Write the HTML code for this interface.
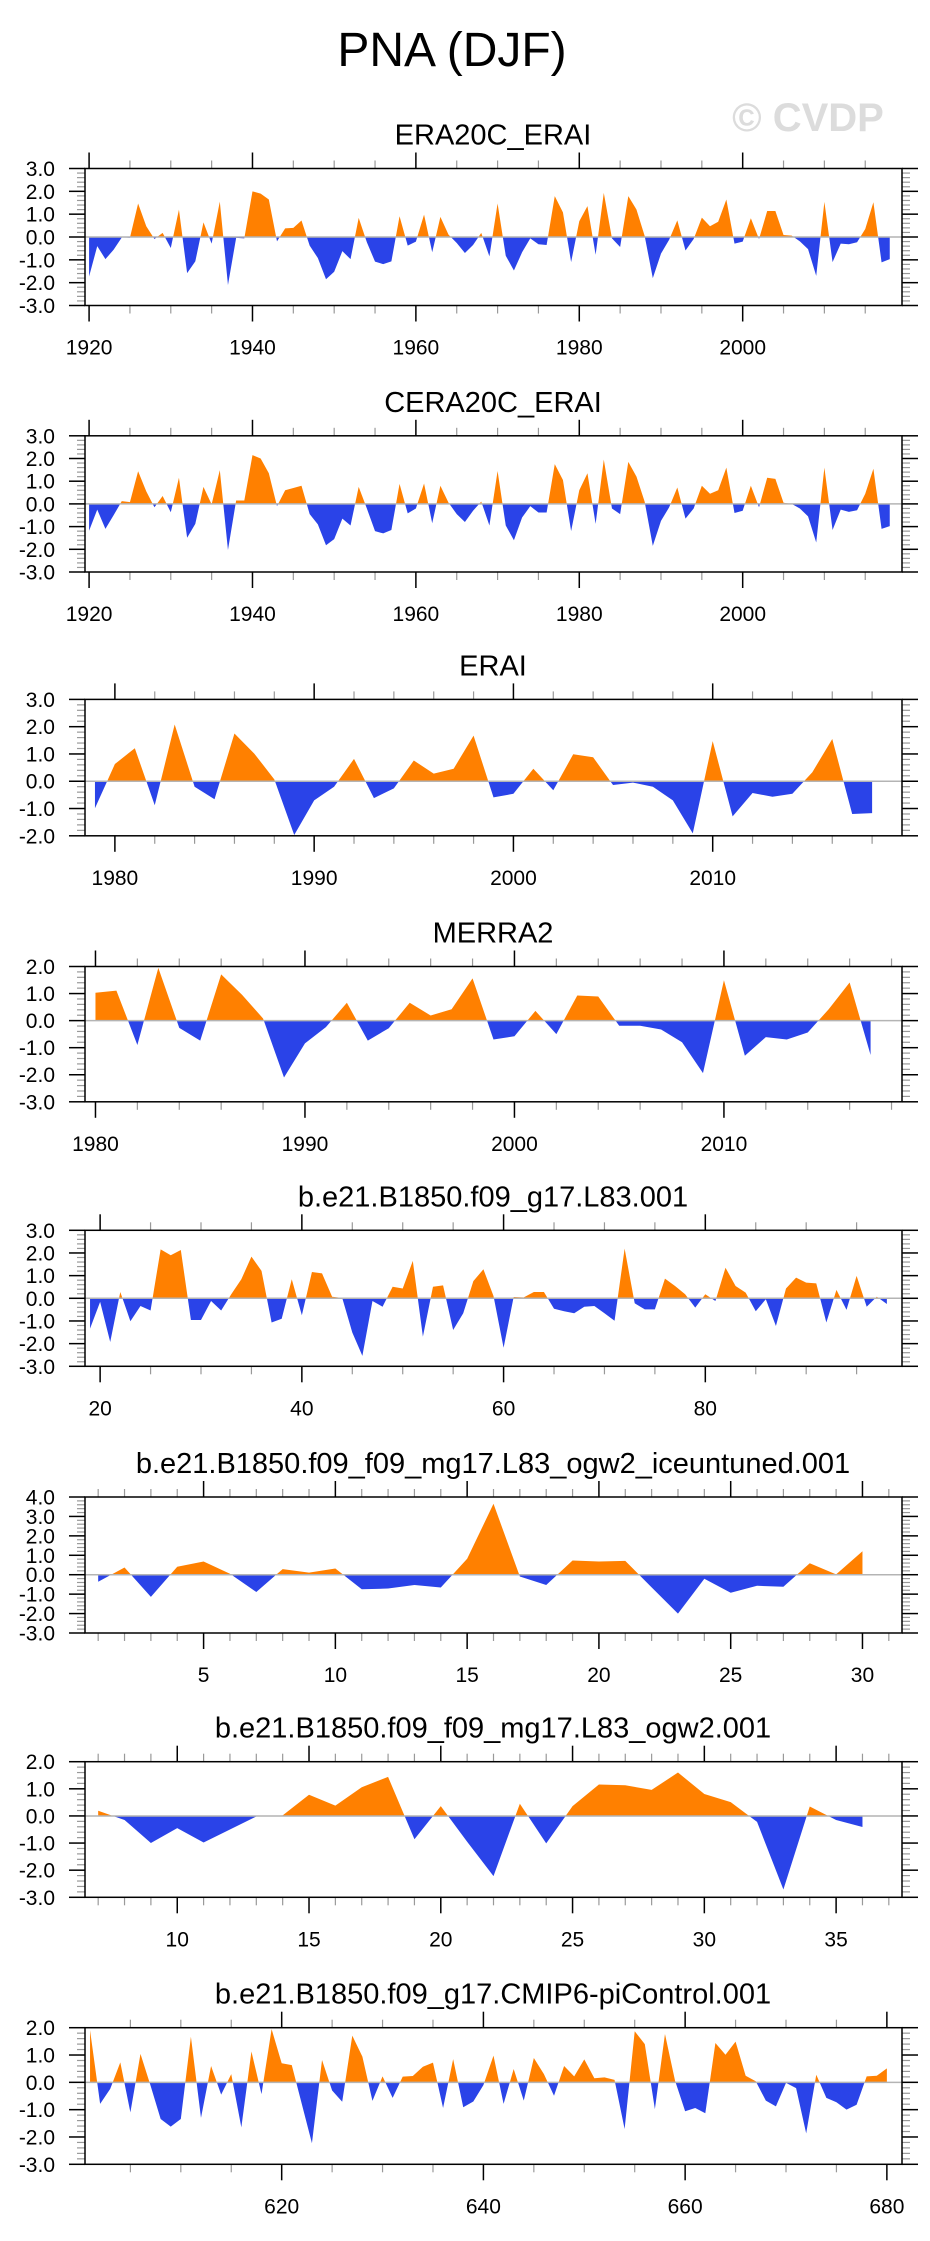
<!DOCTYPE html>
<html><head><meta charset="utf-8">
<style>
html,body{margin:0;padding:0;background:#fff;}
svg{display:block;font-family:"Liberation Sans",Arial,sans-serif;}
</style></head>
<body>
<svg id="chart" width="930" height="2241" viewBox="0 0 930 2241" xmlns="http://www.w3.org/2000/svg">
<text x="452" y="66" font-size="48" text-anchor="middle" fill="#000">PNA (DJF)</text>
<text x="808" y="131" font-size="40" font-weight="bold" text-anchor="middle" fill="#dcdcdc">© CVDP</text>
</svg>
<script>
// ---- data ----
const era20cStart = 1920;
const era20cValues = [-1.73,-0.4,-0.97,-0.56,-0.02,-0.03,1.47,0.47,-0.09,0.18,-0.48,1.2,-1.58,-1.07,0.64,-0.29,1.55,-2.1,-0.04,-0.06,
2.0,1.9,1.64,-0.19,0.38,0.4,0.72,-0.38,-0.92,-1.85,-1.52,-0.62,-0.97,0.84,-0.23,-1.08,-1.19,-1.07,0.91,-0.38,
-0.2,0.98,-0.67,0.88,0.1,-0.26,-0.7,-0.35,0.18,-0.85,1.47,-0.82,-1.47,-0.67,-0.06,-0.32,-0.35,1.79,1.08,-1.1,
0.69,1.35,-0.78,1.93,-0.06,-0.44,1.79,1.2,0.05,-1.8,-0.73,-0.12,0.73,-0.59,-0.09,0.85,0.47,0.67,1.64,-0.29,
-0.2,0.82,-0.09,1.14,1.14,0.09,0.06,-0.19,-0.53,-1.7,1.54,-1.1,-0.29,-0.32,-0.23,0.35,1.52,-1.11,-0.97];
const cera20cStart = 1920;
const cera20cValues = [-1.18,-0.25,-1.1,-0.5,0.12,0.08,1.44,0.55,-0.15,0.35,-0.37,1.15,-1.49,-0.88,0.75,-0.02,1.49,-2.03,0.15,0.15,
2.15,2.0,1.35,-0.1,0.6,0.7,0.8,-0.45,-0.9,-1.82,-1.55,-0.65,-0.95,0.75,-0.2,-1.2,-1.3,-1.15,0.88,-0.42,
-0.2,0.9,-0.85,0.8,0.05,-0.45,-0.8,-0.3,0.1,-0.95,1.45,-0.95,-1.6,-0.6,-0.1,-0.38,-0.38,1.75,1.05,-1.2,
0.6,1.35,-0.88,1.95,-0.2,-0.45,1.85,1.2,0.1,-1.85,-0.75,-0.15,0.72,-0.65,-0.2,0.8,0.45,0.6,1.6,-0.4,
-0.3,0.8,-0.15,1.15,1.1,0.05,0.0,-0.2,-0.55,-1.7,1.6,-1.15,-0.25,-0.35,-0.28,0.45,1.55,-1.1,-0.98];
const eraiStart = 1979;
const eraiValues = [-0.99,0.63,1.21,-0.88,2.08,-0.2,-0.66,1.75,1.01,0.07,-1.97,-0.7,-0.2,0.82,-0.62,-0.26,0.76,0.28,0.46,1.67,
-0.59,-0.46,0.46,-0.33,0.99,0.88,-0.14,-0.05,-0.2,-0.7,-1.91,1.47,-1.29,-0.43,-0.57,-0.46,0.33,1.55,-1.2,-1.17];
const merra2Start = 1980;
const merra2Values = [1.03,1.11,-0.9,1.95,-0.27,-0.74,1.71,0.95,0.08,-2.1,-0.84,-0.24,0.66,-0.74,-0.28,0.66,0.19,0.42,1.56,-0.7,
-0.58,0.36,-0.5,0.93,0.89,-0.19,-0.19,-0.33,-0.8,-1.94,1.49,-1.3,-0.61,-0.7,-0.44,0.42,1.41,-1.27];
const l83Start = 19;
const l83Values = [-1.34,-0.16,-1.93,0.28,-1.01,-0.34,-0.54,2.16,1.9,2.13,-0.96,-0.96,-0.12,-0.54,0.18,0.84,1.84,1.21,-1.07,-0.9,
0.84,-0.75,1.16,1.1,0.07,0.02,-1.51,-2.54,-0.12,-0.37,0.51,0.43,1.65,-1.69,0.51,0.57,-1.4,-0.66,0.76,1.28,
0.1,-2.18,0.06,0.04,0.28,0.28,-0.46,-0.57,-0.66,-0.37,-0.34,-0.66,-0.99,2.19,-0.22,-0.49,-0.49,0.87,0.54,0.18,
-0.41,0.18,-0.12,1.35,0.54,0.25,-0.57,-0.04,-1.22,0.43,0.91,0.69,0.66,-1.07,0.37,-0.51,0.99,-0.37,0.07,-0.25];
const iceStart = 1;
const iceValues = [-0.36,0.37,-1.14,0.41,0.68,0.05,-0.89,0.29,0.11,0.32,-0.75,-0.71,-0.53,-0.66,0.82,3.65,-0.09,-0.53,0.73,0.68,
0.71,-0.65,-2.0,-0.21,-0.93,-0.57,-0.62,0.59,0.02,1.21];
const ogw2Start = 7;
const ogw2Values = [0.19,-0.15,-1.0,-0.45,-0.98,-0.5,-0.02,0.02,0.78,0.38,1.06,1.44,-0.86,0.36,-0.95,-2.22,0.45,-1.01,0.36,1.16,
1.13,0.96,1.6,0.81,0.51,-0.22,-2.71,0.35,-0.15,-0.41];
const piStart = 601;
const piValues = [1.91,-0.79,-0.24,0.73,-1.1,1.04,-0.12,-1.34,-1.62,-1.34,1.67,-1.3,0.6,-0.45,0.3,-1.65,1.13,-0.43,1.95,0.7,
0.63,-0.8,-2.23,0.82,-0.3,-0.71,1.71,0.94,-0.68,0.22,-0.57,0.21,0.23,0.57,0.72,-0.94,0.85,-0.91,-0.7,-0.1,
0.98,-0.79,0.49,-0.67,0.89,0.3,-0.49,0.6,0.22,0.84,0.15,0.18,0.09,-1.71,1.87,1.4,-0.98,1.77,0.06,-1.06,
-0.94,-1.13,1.44,1.01,1.49,0.24,0.04,-0.67,-0.88,-0.02,-0.21,-1.87,0.28,-0.57,-0.73,-1.0,-0.82,0.22,0.24,0.51];
const panelTitles = ["ERA20C_ERAI","CERA20C_ERAI","ERAI","MERRA2","b.e21.B1850.f09_g17.L83.001",
"b.e21.B1850.f09_f09_mg17.L83_ogw2_iceuntuned.001","b.e21.B1850.f09_f09_mg17.L83_ogw2.001","b.e21.B1850.f09_g17.CMIP6-piControl.001"];

// ---- layout ----
const NS = "http://www.w3.org/2000/svg";
const svg = document.getElementById("chart");
const BX0 = 85, BX1 = 902;
const panels = [
 {key:"era20c", start:era20cStart, vals:era20cValues, top:168.5, bot:305.5, xmin:1919.5, xmax:2019.5, ymin:-3, ymax:3, maj:20, majStart:1920, min:5},
 {key:"cera20c", start:cera20cStart, vals:cera20cValues, top:435.8, bot:572, xmin:1919.5, xmax:2019.5, ymin:-3, ymax:3, maj:20, majStart:1920, min:5},
 {key:"erai", start:eraiStart, vals:eraiValues, top:699.4, bot:835.8, xmin:1978.5, xmax:2019.5, ymin:-2, ymax:3, maj:10, majStart:1980, min:2},
 {key:"merra2", start:merra2Start, vals:merra2Values, top:966.5, bot:1101.8, xmin:1979.5, xmax:2018.5, ymin:-3, ymax:2, maj:10, majStart:1980, min:2},
 {key:"l83", start:l83Start, vals:l83Values, top:1230.3, bot:1366.3, xmin:18.5, xmax:99.5, ymin:-3, ymax:3, maj:20, majStart:20, min:5},
 {key:"iceuntuned", start:iceStart, vals:iceValues, top:1497, bot:1633, xmin:0.5, xmax:31.5, ymin:-3, ymax:4, maj:5, majStart:5, min:1},
 {key:"ogw2", start:ogw2Start, vals:ogw2Values, top:1761.7, bot:1897.3, xmin:6.5, xmax:37.5, ymin:-3, ymax:2, maj:5, majStart:10, min:1},
 {key:"picontrol", start:piStart, vals:piValues, top:2027.7, bot:2164.3, xmin:600.5, xmax:681.5, ymin:-3, ymax:2, maj:20, majStart:620, min:5}
];

function mk(tag, attrs, parent){
  const e = document.createElementNS(NS, tag);
  for (const k in attrs) e.setAttribute(k, attrs[k]);
  (parent||svg).appendChild(e);
  return e;
}

panels.forEach((p, pi) => {
  const g = mk("g", {});
  
  
  const X = v => BX0 + (v - p.xmin) / (p.xmax - p.xmin) * (BX1 - BX0);
  const Y = v => p.bot - (v - p.ymin) / (p.ymax - p.ymin) * (p.bot - p.top);
  const y0 = Y(0);

  const t = mk("text", {x:493, y:p.top-24, "font-size":29, "text-anchor":"middle", fill:"#000"}, g);
  t.textContent = panelTitles[pi];
  
  

  // clip paths
  const defs = mk("defs", {}, g);
  const cpA = mk("clipPath", {id:"ca"+pi}, defs);
  mk("rect", {x:BX0, y:p.top, width:BX1-BX0, height:y0-p.top}, cpA);
  const cpB = mk("clipPath", {id:"cb"+pi}, defs);
  mk("rect", {x:BX0, y:y0, width:BX1-BX0, height:p.bot-y0}, cpB);

  let d = "M" + X(p.start).toFixed(2) + "," + y0.toFixed(2);
  p.vals.forEach((v, i) => { d += " L" + X(p.start + i).toFixed(2) + "," + Y(v).toFixed(2); });
  d += " L" + X(p.start + p.vals.length - 1).toFixed(2) + "," + y0.toFixed(2) + " Z";
  const pos = mk("path", {d:d, fill:"#ff8000", "clip-path":"url(#ca"+pi+")"}, g);
  
  
  const neg = mk("path", {d:d, fill:"#2a43e8", "clip-path":"url(#cb"+pi+")"}, g);
  
  

  const zl = mk("line", {x1:BX0, x2:BX1, y1:y0, y2:y0, stroke:"#b4b4b4", "stroke-width":1.5}, g);
  
  

  // y ticks
  for (let k = Math.round(p.ymin*5); k <= Math.round(p.ymax*5); k++) {
    const v = k/5, yy = Y(v), major = (k % 5 === 0);
    const len = major ? 16 : 8, col = major ? "#000" : "#999";
    mk("line", {x1:BX0-len, x2:BX0, y1:yy, y2:yy, stroke:col, "stroke-width":major?1.5:1.2}, g);
    mk("line", {x1:BX1, x2:BX1+len, y1:yy, y2:yy, stroke:col, "stroke-width":major?1.5:1.2}, g);
    if (major) {
      const lt = mk("text", {x:55, y:yy+7.5, "font-size":21, "text-anchor":"end", fill:"#000"}, g);
      lt.textContent = v.toFixed(1);
      
      
    }
  }
  // x ticks
  const first = Math.ceil(p.xmin / p.min) * p.min;
  for (let v = first; v <= p.xmax; v += p.min) {
    const xx = X(v), major = ((v - p.majStart) % p.maj === 0);
    const len = major ? 16 : 8, col = major ? "#000" : "#999";
    mk("line", {x1:xx, x2:xx, y1:p.top-len, y2:p.top, stroke:col, "stroke-width":major?1.5:1.2}, g);
    mk("line", {x1:xx, x2:xx, y1:p.bot, y2:p.bot+len, stroke:col, "stroke-width":major?1.5:1.2}, g);
    if (major) {
      const lt = mk("text", {x:xx, y:p.bot+49, "font-size":21, "text-anchor":"middle", fill:"#000"}, g);
      lt.textContent = String(v);
      
      
    }
  }
  const box = mk("rect", {x:BX0, y:p.top, width:BX1-BX0, height:p.bot-p.top, fill:"none", stroke:"#000", "stroke-width":1.5}, g);
  
  
});
</script>
</body></html>
